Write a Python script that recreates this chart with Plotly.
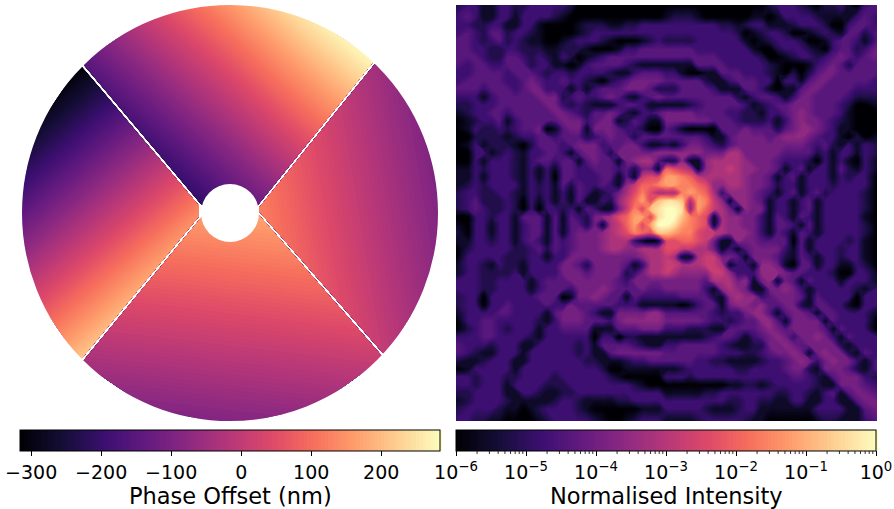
import math
import plotly.graph_objects as go

MAGMA = [[0, "#000004"], [.1, "#140e36"], [.2, "#3b0f70"], [.3, "#641a80"], [.4, "#8c2981"], [.5, "#b73779"],
         [.6, "#de4968"], [.7, "#f7705c"], [.8, "#fe9f6d"], [.9, "#fecf92"], [1, "#fcfdbf"]]

# Phase (nm) read at the corners/edges of each mirror segment: rows inner, middle, outer
PHASE_TOP = [[-209, -190, -170, -151, -131], [-182, -88, -8, 52, 78], [-155, 14, 155, 258, 284]]
PHASE_LEFT = [[123, 128, 132, 137, 142], [-99, -71, -9, 79, 178], [-316, -270, -150, 20, 214]]
PHASE_RIGHT = [[123, 123, 123, 123, 123], [37, 16, 13, 29, 62], [-49, -91, -97, -65, 1]]
PHASE_BOTTOM = [[160, 163, 167, 171, 174], [60, 37, 36, 55, 93], [-39, -88, -94, -60, 12]]
PHASE_TICKS = [-300, -200, -100, 0, 100, 200]
PHASE_LABELS = ["−300", "−200", "−100", "0", "100", "200"]

# Log-intensity levels read by eye: hex digit, 0 = 1e-6, f = 1e0
PSF_TL = """
2 3 3 1 1 3 3 2 2 3 3 3 3 3 2 0 0 0 0 0 0 0 0 0 0 0
3 4 3 1 1 3 3 1 3 3 3 3 2 1 0 0 0 0 0 0 0 0 0 0 0 0
3 3 2 2 3 3 1 1 3 3 1 0 0 0 0 1 2 2 2 1 1 2 2 3 3 3
3 4 3 2 4 4 2 3 3 2 1 0 0 0 0 1 2 3 3 3 3 3 3 3 3 3
4 4 3 2 3 4 2 3 2 1 1 0 0 1 2 3 3 3 2 1 0 0 0 1 2 3
4 4 3 3 2 2 3 3 2 2 2 1 1 2 2 2 1 0 0 0 1 3 3 4 4 4
4 4 4 3 2 2 4 4 3 2 3 2 1 3 2 0 1 2 3 4 4 4 4 4 4 4
4 3 4 4 3 3 4 4 4 2 3 3 1 1 0 1 3 4 4 4 4 3 2 1 1 1
3 3 4 4 4 4 3 4 4 4 3 2 3 3 2 3 3 3 3 2 1 1 3 4 4 4
3 4 4 4 4 4 3 3 4 5 4 3 3 4 3 3 2 1 0 2 3 4 5 5 5 5
4 4 4 3 4 4 4 3 4 5 5 3 3 3 1 3 1 3 4 4 4 5 5 5 4 2
3 3 3 1 3 4 4 4 4 4 5 5 5 2 3 4 3 3 4 5 4 2 1 3 4 5
2 2 3 3 3 4 4 4 4 4 4 5 5 3 2 3 2 1 1 1 3 4 4 3 1 1
1 2 3 3 4 4 3 4 4 4 4 4 5 5 4 3 2 4 4 5 4 2 1 3 3 4
0 1 2 3 3 4 1 3 4 4 4 4 4 5 5 5 3 4 5 5 1 2 4 3 1 1
0 1 3 2 2 3 2 3 4 4 5 0 1 4 5 5 1 5 5 5 4 3 3 2 0 0
0 0 2 2 2 2 1 2 3 3 4 4 3 4 4 4 2 3 4 5 4 4 2 4 4 4
0 1 3 1 2 2 2 1 0 2 4 4 4 3 4 5 5 5 3 4 4 5 5 3 1 1
0 0 3 3 1 2 3 2 1 3 3 4 4 3 1 4 5 5 4 2 5 5 5 5 5 6
0 0 3 1 3 3 3 2 1 3 4 4 3 4 4 1 4 5 4 4 1 5 6 7 7 4
1 1 3 2 3 3 3 2 1 3 1 3 1 4 4 3 3 4 4 4 3 4 2 5 5 1
1 1 3 1 3 3 3 2 1 3 1 3 0 4 4 3 3 3 4 4 1 4 1 8 9 9
1 2 3 2 3 3 3 3 1 3 2 3 1 4 2 4 3 3 4 3 1 6 8 a a b
2 3 3 2 2 3 3 2 1 3 2 3 1 3 1 4 3 1 2 3 5 7 9 b 9 7
2 3 4 2 2 2 3 2 0 3 1 3 1 3 1 4 1 1 3 2 6 8 a c 9 d
2 3 4 3 2 2 3 2 0 3 0 3 3 2 3 1 4 3 1 1 5 8 b 9 d e
"""
PSF_TR = """
0 0 0 0 0 0 0 0 0 0 0 0 0 2 3 3 3 2 1 0 2 2 3 1 0 3 4
1 2 2 2 1 0 0 0 0 0 0 1 1 0 1 3 3 3 3 2 1 1 1 1 3 4 3
3 3 3 3 3 3 3 2 2 1 2 3 3 1 1 1 2 3 3 3 2 0 0 3 4 4 3
3 3 3 3 3 3 3 3 3 2 0 1 2 3 3 2 0 0 1 2 3 2 1 4 4 2 4
2 2 2 2 3 3 3 3 3 3 1 0 1 2 3 3 3 2 0 0 1 3 4 4 3 1 4
4 4 4 4 3 3 3 3 3 3 3 1 0 0 2 3 3 3 2 1 0 3 4 4 2 3 5
4 4 4 4 4 4 4 3 3 3 3 3 2 0 0 1 2 3 3 2 3 4 5 4 3 4 5
1 1 1 1 4 4 4 4 3 3 3 3 3 2 1 0 0 0 1 3 4 5 4 2 4 4 4
3 3 1 0 0 1 1 4 4 4 3 3 3 2 1 0 2 0 2 4 5 5 4 4 4 4 4
4 4 4 4 4 2 1 1 3 4 4 4 3 3 0 3 3 1 4 5 5 4 4 4 4 4 3
2 2 4 4 4 4 3 1 1 1 4 4 3 1 0 1 1 4 5 5 4 4 4 4 3 3 3
4 4 4 4 4 4 4 4 4 2 1 3 4 4 3 1 3 5 5 4 4 4 4 3 2 2 2
1 1 1 2 3 4 4 4 4 4 3 1 2 3 4 4 5 5 5 4 4 4 3 2 0 0 1
5 5 5 5 4 4 4 4 3 3 2 2 1 3 3 4 5 6 5 4 4 4 3 1 0 0 0
5 5 5 5 5 5 4 4 4 3 2 2 2 3 1 3 5 6 5 5 4 3 2 1 0 0 0
4 3 1 0 0 0 0 4 4 4 5 4 4 4 2 4 5 6 6 5 4 3 1 1 0 0 0
4 4 4 4 4 3 1 1 4 5 5 5 5 4 5 6 6 6 5 4 3 3 1 0 2 0 1
2 1 3 5 5 4 3 2 4 5 5 5 5 5 5 5 5 5 4 3 4 2 1 3 1 3 2
6 6 6 6 6 5 5 5 7 7 5 5 5 5 5 4 4 4 4 2 3 1 3 3 1 3 2
2 2 6 1 1 6 7 7 7 7 6 5 5 5 4 3 3 3 2 0 3 1 3 1 0 3 1
a 9 8 7 1 6 7 7 8 7 6 6 5 5 4 1 3 4 1 3 3 1 4 2 1 3 1
c c b a 8 7 7 7 7 7 6 5 5 4 1 3 4 1 3 3 3 1 3 2 3 3 0
c c b b a 9 6 6 7 7 6 5 5 4 2 3 3 1 3 3 3 2 3 3 3 3 0
7 7 b c b a 7 3 6 6 6 5 4 3 1 3 4 1 3 4 2 3 3 3 3 2 0
e e d 7 c b 8 6 1 6 6 5 4 1 3 3 1 3 4 1 3 3 3 3 3 2 0
f f e 6 c a 8 7 5 1 6 5 5 1 3 3 1 3 4 1 3 3 3 3 3 2 0
"""
PSF_BL = """
0 0 3 3 2 3 3 1 4 4 4 1 4 1 4 3 2 5 6 7 9 a c c 9 e
1 0 3 3 1 3 3 1 3 4 4 1 4 1 4 4 2 5 1 7 8 a c 9 c f
2 0 3 3 1 3 3 1 3 4 4 1 4 1 4 5 5 5 6 7 8 9 b a 9 d
1 1 3 3 2 3 3 1 3 4 3 1 4 3 4 5 5 5 6 7 7 7 3 1 0 1
0 2 3 3 3 3 3 2 2 3 4 2 4 3 4 5 5 5 6 7 7 6 6 7 7 7
0 3 3 3 3 3 2 2 2 3 3 1 3 3 5 5 5 5 5 5 5 5 5 6 7 7
1 3 3 2 1 3 2 2 1 3 3 3 3 5 5 4 2 5 5 5 5 4 1 3 7 7
1 3 3 2 2 2 2 3 1 3 3 3 3 5 5 5 4 5 5 5 5 2 3 5 7 7
3 3 3 2 2 3 3 3 3 1 3 4 4 4 5 5 5 5 5 5 4 3 5 5 5 5
3 3 3 2 2 3 3 3 3 1 3 4 4 4 3 5 5 5 6 5 4 4 4 5 4 4
2 3 3 0 3 3 3 3 3 3 4 4 4 0 1 5 5 6 5 4 4 1 4 3 3 3
2 3 3 0 3 3 4 3 3 3 3 4 3 3 5 4 4 4 4 4 3 3 3 1 1 1
1 3 3 3 3 4 4 3 3 3 3 1 4 5 5 5 4 3 1 1 5 5 5 5 6 6
0 3 3 4 4 3 3 3 3 3 2 1 3 5 5 5 4 4 4 3 5 6 6 6 6 6
0 2 3 4 4 3 2 3 3 3 1 3 3 4 4 4 4 1 1 1 4 4 4 5 5 5
3 3 3 4 4 3 3 3 3 2 1 3 3 3 3 3 3 0 3 3 0 2 2 1 1 1
4 3 3 3 2 3 3 3 1 1 3 3 3 3 3 2 3 1 4 4 4 4 3 2 1 1
4 3 2 1 1 3 3 3 1 3 3 3 3 3 3 2 3 1 1 4 5 5 5 5 5 5
2 1 1 2 3 3 3 1 1 3 3 3 3 3 3 3 2 2 1 1 1 2 3 3 4 4
0 1 3 3 3 3 3 1 3 3 3 3 3 3 3 3 3 3 2 0 0 1 1 1 1 1
3 3 2 3 3 3 2 2 3 3 3 3 2 3 3 3 3 3 3 2 1 0 0 0 0 0
3 3 2 3 3 3 1 3 3 3 3 2 2 2 3 3 3 3 3 3 3 3 2 1 0 0
2 2 3 3 3 3 1 1 3 3 2 1 1 2 2 3 3 3 3 3 3 3 3 3 3 3
1 2 3 3 3 3 2 1 1 1 1 1 2 3 3 2 1 1 1 1 2 2 3 3 3 3
2 3 3 3 3 2 1 1 0 1 2 3 3 3 3 2 1 0 0 0 0 0 0 1 1 1
3 3 2 2 1 1 0 0 0 0 1 2 3 3 3 3 3 2 1 0 0 1 2 3 3 3
"""
PSF_BR = """
f f d b a 9 1 7 6 6 5 5 3 1 4 3 1 4 3 1 3 3 3 3 3 1 0
f e c b a 9 1 7 6 6 5 5 3 1 4 4 3 1 4 1 3 3 3 3 3 2 0
d c b b 9 8 8 7 6 6 6 5 3 1 4 3 1 4 3 1 3 3 3 3 3 2 0
9 9 a a 9 8 5 1 1 6 5 5 4 4 4 4 0 4 1 3 3 3 3 2 3 1 0
9 9 8 8 7 7 5 1 3 1 4 5 5 5 5 3 1 4 1 3 3 3 2 3 3 1 0
8 7 1 1 7 8 8 5 5 4 1 5 5 5 4 2 1 4 3 1 3 3 2 3 3 1 0
8 8 7 7 7 8 8 7 1 3 3 1 6 6 5 1 0 4 4 1 3 3 1 1 3 2 0
8 7 6 6 6 6 8 8 6 3 3 3 6 6 6 5 4 4 3 3 3 2 0 0 3 3 1
5 5 5 5 5 4 7 7 7 5 6 1 5 6 1 5 4 1 4 3 3 3 1 3 3 3 1
5 5 5 5 5 3 1 6 7 6 5 1 1 5 5 6 5 3 1 3 3 3 3 3 2 1 3
3 3 4 4 4 4 2 1 6 7 6 6 3 4 5 5 5 4 1 4 3 3 3 3 0 3 3
1 1 0 1 3 4 4 1 5 6 6 5 6 4 4 5 5 2 1 4 4 3 3 1 0 3 3
4 4 4 4 4 4 3 2 3 3 5 6 6 4 1 4 5 5 4 1 4 4 3 3 3 3 1
5 5 5 5 5 4 3 3 2 3 4 4 6 6 4 1 5 5 5 5 1 4 3 3 3 3 0
3 3 3 2 2 2 1 1 4 4 4 4 5 6 5 4 5 5 5 5 4 1 4 3 3 3 0
1 1 1 1 1 2 3 4 4 3 1 3 4 5 6 5 3 5 5 6 5 3 1 4 3 3 3
3 3 4 4 4 4 4 3 2 1 1 2 2 5 5 6 5 4 5 5 5 5 2 1 3 3 3
4 4 4 4 4 4 4 3 3 3 2 2 3 4 5 5 6 5 1 5 6 5 5 2 1 4 3
4 4 4 4 3 3 2 2 1 1 1 1 2 3 3 4 5 6 5 3 5 6 5 5 3 1 4
1 1 2 3 3 3 3 3 3 2 2 3 3 3 3 4 5 5 2 1 5 5 5 4 2 1 4
3 3 3 2 3 3 3 3 3 3 3 3 3 3 3 3 4 4 3 2 1 4 5 5 5 3 2
0 0 0 0 0 0 0 0 1 1 2 2 1 2 3 3 3 3 3 2 1 1 5 5 5 4 3
1 1 1 1 1 2 2 3 3 3 3 3 3 3 2 2 3 3 2 1 3 4 1 4 5 5 4
3 3 3 3 3 3 3 3 2 2 3 3 2 2 1 1 3 3 1 1 3 3 1 1 4 5 5
3 3 3 3 3 2 1 1 1 2 3 3 1 1 1 1 1 1 1 3 3 3 3 1 1 4 5
1 1 1 1 2 3 3 3 3 3 2 1 1 0 0 0 0 0 0 1 2 2 1 1 1 3 4
"""
INT_TICKS = [-6, -5, -4, -3, -2, -1, 0]
INT_LABELS = ["10<sup>−6</sup>", "10<sup>−5</sup>", "10<sup>−4</sup>", "10<sup>−3</sup>",
              "10<sup>−2</sup>", "10<sup>−1</sup>", "10<sup>0</sup>"]

W, H = 894, 509
FONT = "DejaVu Sans"
TICK_SIZE = 19
TITLE_SIZE = 22.5


def rows(text, n):
    out = []
    for line in text.strip().splitlines():
        cells = [int(c, 16) for c in line.split()][:n]
        out.append(cells + cells[-1:] * (n - len(cells)))
    return out


psf = [a + b for a, b in zip(rows(PSF_TL, 26), rows(PSF_TR, 27))] + \
      [a + b for a, b in zip(rows(PSF_BL, 26), rows(PSF_BR, 27))]
psf_log = [[-6 + 0.4 * v for v in row] for row in psf]
NX, NY = len(psf_log[0]), len(psf_log)
# cell centres; the outermost ones reach the frame so that the contour fill covers it
xc = [-0.5] + list(range(1, NX - 1)) + [NX - 0.5]
yc = [-0.5] + list(range(1, NY - 1)) + [NY - 0.5]

# Segment outlines in pixel units of the left panel: inner/outer ends of each edge
CX, CY, R = 230, 213, 208
SEGMENTS = [
    (PHASE_TOP, (201, 204.2), (84, 65.2), (257, 206.2), (373, 62.2)),
    (PHASE_LEFT, (199, 205.8), (82, 66.8), (199, 216.2), (82, 358.2)),
    (PHASE_RIGHT, (259, 207.8), (375, 63.8), (259, 211.2), (383, 353.2)),
    (PHASE_BOTTOM, (201, 217.8), (84, 359.8), (257, 212.8), (381, 354.8)),
]

fig = go.Figure()
for k, (vals, in0, out0, in1, out1) in enumerate(SEGMENTS):
    o0 = (in0[0] + 1.02 * (out0[0] - in0[0]), in0[1] + 1.02 * (out0[1] - in0[1]))
    o1 = (in1[0] + 1.02 * (out1[0] - in1[0]), in1[1] + 1.02 * (out1[1] - in1[1]))
    t0 = math.atan2(o0[1] - CY, o0[0] - CX)
    t1 = math.atan2(o1[1] - CY, o1[0] - CX)
    if t1 - t0 > math.pi:
        t1 -= 2 * math.pi
    if t0 - t1 > math.pi:
        t1 += 2 * math.pi
    xs, ys = [[], [], []], [[], [], []]
    for j in range(5):
        f = j / 4
        ix, iy = in0[0] + f * (in1[0] - in0[0]), in0[1] + f * (in1[1] - in0[1])
        if j in (0, 4):
            ox, oy = (o0 if j == 0 else o1)
        else:
            t = t0 + f * (t1 - t0)
            ox, oy = CX + 212 * math.cos(t), CY + 212 * math.sin(t)
        for i, a in enumerate((0, .5, 1)):
            xs[i].append(ix + a * (ox - ix))
            ys[i].append(iy + a * (oy - iy))
    cid = f"seg{k}"
    fig.add_trace(go.Carpet(carpet=cid, a=[0, 1, 2, 3, 4], b=[0, 1, 2], x=xs, y=ys, xaxis="x", yaxis="y",
                            aaxis=dict(showgrid=False, minorgridcount=0, startline=False, endline=False,
                                       showticklabels="none", smoothing=0),
                            baxis=dict(showgrid=False, minorgridcount=0, startline=False, endline=False,
                                       showticklabels="none", smoothing=0)))
    fig.add_trace(go.Contourcarpet(carpet=cid, a=[0, 1, 2, 3, 4], b=[0, 1, 2], z=vals, colorscale=MAGMA,
                                   zmin=-316, zmax=284, autocontour=False,
                                   contours=dict(start=-316, end=284, size=5, coloring="fill", showlines=False),
                                   line=dict(width=0), showscale=(k == 0), xaxis="x", yaxis="y",
                                   colorbar=dict(orientation="h", x=20 / W, xanchor="left", y=1 - 430 / H,
                                                 yanchor="top", len=420, lenmode="pixels", thickness=21,
                                                 xpad=0, ypad=0, outlinecolor="#000", outlinewidth=1,
                                                 tickmode="array", tickvals=PHASE_TICKS, ticktext=PHASE_LABELS,
                                                 ticks="outside", ticklen=5, tickcolor="#000",
                                                 tickfont=dict(family=FONT, size=TICK_SIZE, color="#000"))))

fig.add_trace(go.Contour(z=psf_log, x=xc, y=yc, zmin=-6, zmax=0, colorscale=MAGMA, xaxis="x2", yaxis="y2",
                         autocontour=False, contours=dict(start=-6, end=0, size=0.05, coloring="fill", showlines=False),
                         line=dict(width=0, smoothing=1.3),
                         colorbar=dict(orientation="h", x=456 / W, xanchor="left", y=1 - 430 / H, yanchor="top",
                                       len=420, lenmode="pixels", thickness=21, xpad=0, ypad=0,
                                       outlinecolor="#000", outlinewidth=1, tickmode="array",
                                       tickvals=INT_TICKS, ticktext=INT_LABELS, ticks="outside", ticklen=5,
                                       tickcolor="#000", tickfont=dict(family=FONT, size=TICK_SIZE, color="#000"))))

shapes = [
    dict(type="circle", xref="x", yref="y", x0=CX - R - 7, x1=CX + R + 7, y0=CY - R - 7, y1=CY + R + 7,
         line=dict(color="#fff", width=14), fillcolor="rgba(0,0,0,0)", layer="above"),
    dict(type="circle", xref="x", yref="y", x0=CX - 29, x1=CX + 29, y0=CY - 29, y1=CY + 29,
         line=dict(width=0), fillcolor="#fff", layer="above"),
]
for d in range(6):
    for m in range(2, 10):
        px = 456 + 70 * (d + math.log10(m))
        shapes.append(dict(type="line", xref="paper", yref="paper", x0=px / W, x1=px / W,
                           y0=1 - 451 / H, y1=1 - 454 / H, line=dict(color="#000", width=0.8)))

titles = [
    dict(text="Phase Offset (nm)", xref="paper", yref="paper", x=230 / W, y=1 - 496 / H, xanchor="center",
         yanchor="middle", showarrow=False, font=dict(family=FONT, size=TITLE_SIZE, color="#000")),
    dict(text="Normalised Intensity", xref="paper", yref="paper", x=666 / W, y=1 - 496 / H, xanchor="center",
         yanchor="middle", showarrow=False, font=dict(family=FONT, size=TITLE_SIZE, color="#000")),
]

fig.update_layout(
    width=W, height=H, margin=dict(l=0, r=0, t=0, b=0, autoexpand=False), paper_bgcolor="#fff", plot_bgcolor="#fff",
    showlegend=False, shapes=shapes, annotations=titles,
    xaxis=dict(domain=[0, 448 / W], range=[0, 448], visible=False, fixedrange=True),
    yaxis=dict(domain=[1 - 425 / H, 1], range=[425, 0], visible=False, fixedrange=True),
    xaxis2=dict(domain=[456 / W, 877 / W], range=[-0.5, NX - 0.5], visible=False),
    yaxis2=dict(domain=[1 - 421 / H, 1 - 5 / H], range=[NY - 0.5, -0.5], visible=False),
)
fig.write_html("out.html", config={"displayModeBar": False}, post_script="document.body.style.margin='0';")
